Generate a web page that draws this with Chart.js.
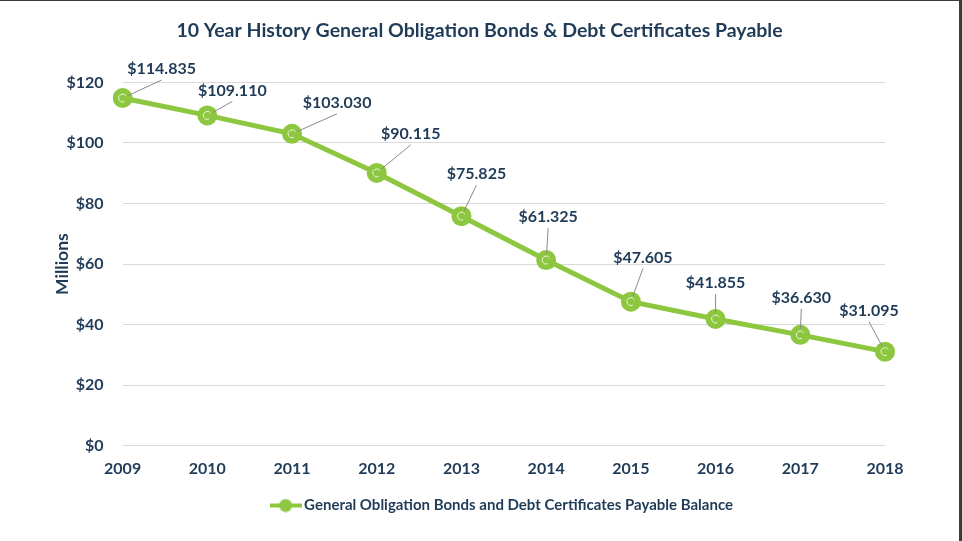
<!DOCTYPE html>
<html>
<head>
<meta charset="utf-8">
<script src="https://cdn.jsdelivr.net/npm/chart.js@4/dist/chart.umd.min.js"></script>
<style>
  html, body { margin: 0; padding: 0; background: #fff; }
  #wrap { width: 962px; height: 541px; position: relative; }
</style>
</head>
<body>
<div id="wrap"><canvas id="chart" width="962" height="541"></canvas></div>
<script>
const years    = ['2009', '2010', '2011', '2012', '2013', '2014', '2015', '2016', '2017', '2018'];
const balances = [114.835, 109.110, 103.030, 90.115, 75.825, 61.325, 47.605, 41.855, 36.630, 31.095];
const yTicks   = ['$0', '$20', '$40', '$60', '$80', '$100', '$120'];

// where each value label sits relative to its point (px)
const labelOffsets = [
  [39, -29], [25, -25], [45, -31], [34, -39], [15, -42],
  [2, -43], [12, -44], [0, -36], [1, -37], [-16, -41]
];

const GREEN = '#8dc63f';
const TEXT  = '#1f3b57';
const FONT  = 'Lato, "Open Sans", sans-serif';

// legend marker: line with a dot in the middle
function legendMarker() {
  const c = document.createElement('canvas');
  c.width = 32; c.height = 14;
  const g = c.getContext('2d');
  g.strokeStyle = GREEN; g.fillStyle = GREEN; g.lineWidth = 4;
  g.beginPath(); g.moveTo(0, 7); g.lineTo(32, 7); g.stroke();
  g.beginPath(); g.arc(16, 7, 6.5, 0, Math.PI * 2); g.fill();
  return c;
}

const valueLabels = {
  id: 'valueLabels',
  afterDatasetsDraw(chart) {
    const ctx = chart.ctx;
    const pts = chart.getDatasetMeta(0).data;
    ctx.save();
    ctx.font = `bold 16px ${FONT}`;
    ctx.textAlign = 'center';
    ctx.textBaseline = 'middle';
    pts.forEach((p, i) => {
      const [dx, dy] = labelOffsets[i];
      const lx = p.x + dx, ly = p.y + dy;
      // leader line from marker edge to label bottom
      const ex = lx, ey = ly + 11;
      const ang = Math.atan2(ey - p.y, ex - p.x);
      ctx.strokeStyle = '#8a8a8a';
      ctx.lineWidth = 1;
      ctx.beginPath();
      ctx.moveTo(p.x + Math.cos(ang) * 6, p.y + Math.sin(ang) * 6);
      ctx.lineTo(ex, ey);
      ctx.stroke();
      // small white ring in the marker
      ctx.strokeStyle = 'rgba(255,255,255,0.8)';
      ctx.lineWidth = 1;
      ctx.beginPath();
      ctx.arc(p.x, p.y, 4, 0.35 * Math.PI, 1.85 * Math.PI);
      ctx.stroke();
      ctx.fillStyle = TEXT;
      ctx.fillText('$' + balances[i].toFixed(3), lx, ly);
    });
    ctx.restore();
  }
};

const frame = {
  id: 'frame',
  afterDraw(chart) {
    const ctx = chart.ctx;
    ctx.save();
    ctx.fillStyle = '#3c3c3c';
    ctx.fillRect(0, 0, chart.width, 1);
    ctx.fillRect(chart.width - 3, 0, 3, chart.height);
    ctx.restore();
  }
};

new Chart(document.getElementById('chart').getContext('2d'), {
  type: 'line',
  data: {
    labels: years,
    datasets: [{
      label: 'General Obligation Bonds and Debt Certificates Payable Balance',
      data: balances,
      borderColor: GREEN,
      backgroundColor: GREEN,
      borderWidth: 5,
      pointRadius: 10,
      pointHoverRadius: 10,
      pointBackgroundColor: GREEN,
      pointBorderWidth: 0,
      tension: 0
    }]
  },
  options: {
    responsive: false,
    animation: false,
    layout: { padding: { left: 57, right: 60, top: 0, bottom: 18 } },
    plugins: {
      title: {
        display: true,
        text: '10 Year History General Obligation Bonds & Debt Certificates Payable',
        color: TEXT,
        font: { family: FONT, size: 19.5, weight: 'bold' },
        padding: { top: 19, bottom: 40 }
      },
      legend: {
        position: 'bottom',
        fullSize: false,
        labels: {
          color: TEXT,
          font: { family: FONT, size: 15, weight: 'bold' },
          usePointStyle: true,
          pointStyleWidth: 22,
          padding: 7,
          generateLabels(chart) {
            const ds = chart.data.datasets[0];
            return [{
              text: ds.label, fillStyle: GREEN, strokeStyle: GREEN,
              lineWidth: 0, pointStyle: legendMarker(), datasetIndex: 0, fontColor: TEXT
            }];
          }
        }
      },
      tooltip: { enabled: false }
    },
    scales: {
      x: {
        offset: false,
        grid: { display: false, drawTicks: false },
        border: { display: false },
        ticks: { color: TEXT, padding: 13, font: { family: FONT, size: 16, weight: 'bold' } }
      },
      y: {
        min: 0,
        max: 120,
        grid: { color: '#d9d9d9', drawTicks: false },
        border: { display: false },
        ticks: {
          stepSize: 20,
          padding: 19,
          color: TEXT,
          font: { family: FONT, size: 16, weight: 'bold' },
          callback: (v) => yTicks[v / 20]
        },
        title: {
          display: true,
          text: 'Millions',
          color: TEXT,
          font: { family: FONT, size: 17.5, weight: 'bold' },
          padding: { top: -5.5, bottom: -25 }
        }
      },
      // empty spacer on the right so the title centres like the original
      yRight: {
        type: 'linear',
        position: 'right',
        grid: { display: false, drawTicks: false },
        border: { display: false },
        ticks: { display: false },
        afterFit(scale) { scale.width = 17; }
      }
    }
  },
  plugins: [valueLabels, frame]
});
</script>
</body>
</html>
